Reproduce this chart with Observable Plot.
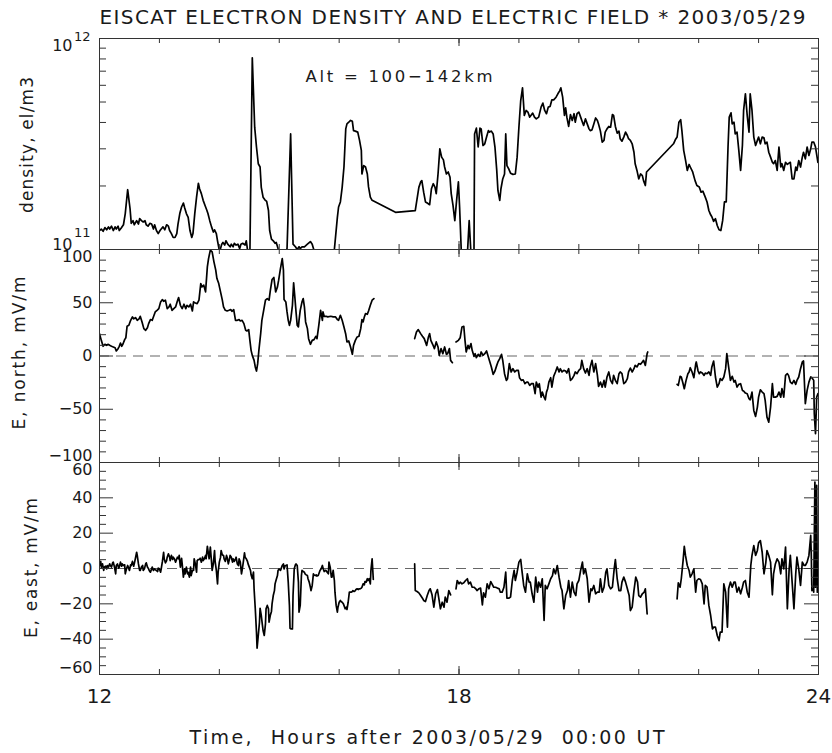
<!DOCTYPE html>
<html><head><meta charset="utf-8">
<script src="https://cdn.jsdelivr.net/npm/d3@7"></script>
<script src="https://cdn.jsdelivr.net/npm/@observablehq/plot@0.6"></script>
<style>
html,body{margin:0;padding:0;background:#fff;}
#chart{position:relative;width:832px;height:753px;font-family:"DejaVu Sans",sans-serif;}
</style></head><body><div id="chart"></div>
<script>
// ---------- text ----------
const titleText = "EISCAT ELECTRON DENSITY AND ELECTRIC FIELD * 2003/05/29";
const xTitle = "Time,\u00a0 Hours after 2003/05/29\u00a0 00:00 UT";
const densLabel = "density, el/m3";
const northLabel = "E, north, mV/m";
const eastLabel = "E, east, mV/m";
const altText = "Alt = 100\u2212142km";

// ---------- ticks ----------
const hourTicks = [12,13,14,15,16,17,18,19,20,21,22,23,24];
const hourMajor = [12,18,24];
const densMajor = [1e11, 1e12];
const densMinor = [2e11,3e11,4e11,5e11,6e11,7e11,8e11,9e11];
const northMajor = [-100,-50,0,50,100];
const northMinor = [-90,-80,-70,-60,-40,-30,-20,-10,10,20,30,40,60,70,80,90];
const eastMajor = [-60,-40,-20,0,20,40,60];
const eastMinor = [-55,-50,-45,-35,-30,-25,-15,-10,-5,5,10,15,25,30,35,45,50,55];

// ---------- electron density (hours UT, units of 1e11 el/m3) ----------
const densTime = [12.00,12.03,12.06,12.09,12.12,12.15,12.17,12.20,12.23,12.26,12.28,12.31,12.33,12.36,12.40,12.43,12.47,12.51,12.53,12.56,12.58,12.62,12.65,12.67,12.70,12.73,12.76,12.78,12.81,12.84,12.87,12.90,12.92,12.95,12.98,13.01,13.03,13.06,13.09,13.12,13.15,13.17,13.20,13.23,13.26,13.29,13.31,13.34,13.37,13.40,13.42,13.45,13.48,13.51,13.54,13.56,13.59,13.62,13.65,13.67,13.70,13.73,13.76,13.79,13.81,13.84,13.87,13.90,13.92,13.95,13.97,14.00,14.02,14.04,14.06,14.09,14.11,14.14,14.18,14.20,14.23,14.25,14.28,14.31,14.34,14.36,14.39,14.43,14.45,14.48,14.51,14.55,14.59,14.62,14.65,14.68,14.70,14.73,14.76,14.79,14.82,14.84,14.87,14.90,14.93,14.95,14.98,15.01,15.08,15.13,15.19,15.23,15.27,15.30,15.33,15.35,15.38,15.42,15.47,15.52,15.55,15.58,15.63,15.88,15.92,15.97,15.99,16.02,16.05,16.08,16.11,16.13,16.16,16.19,16.22,16.24,16.27,16.31,16.34,16.37,16.38,16.41,16.44,16.47,16.49,16.52,16.55,16.94,17.27,17.33,17.36,17.38,17.41,17.44,17.47,17.51,17.54,17.57,17.60,17.62,17.65,17.68,17.71,17.74,17.76,17.79,17.82,17.85,17.87,17.90,17.93,17.96,17.99,18.01,18.04,18.07,18.14,18.17,18.20,18.25,18.26,18.29,18.32,18.35,18.37,18.40,18.43,18.46,18.49,18.51,18.54,18.57,18.60,18.63,18.65,18.68,18.70,18.73,18.76,18.78,18.80,18.83,18.86,18.90,18.94,18.97,19.00,19.03,19.06,19.09,19.12,19.15,19.18,19.20,19.23,19.26,19.29,19.33,19.37,19.40,19.43,19.46,19.49,19.52,19.55,19.58,19.62,19.65,19.68,19.70,19.73,19.76,19.78,19.80,19.83,19.86,19.89,19.92,19.94,19.97,20.00,20.03,20.06,20.08,20.11,20.14,20.17,20.19,20.22,20.25,20.28,20.31,20.33,20.36,20.39,20.42,20.44,20.47,20.50,20.53,20.56,20.58,20.61,20.64,20.67,20.69,20.72,20.75,20.78,20.81,20.83,20.86,20.89,20.92,20.94,20.97,21.00,21.03,21.06,21.08,21.11,21.13,21.58,21.61,21.64,21.67,21.70,21.72,21.75,21.78,21.81,21.84,21.86,21.90,21.94,21.97,22.01,22.04,22.07,22.11,22.14,22.17,22.20,22.22,22.25,22.28,22.31,22.34,22.37,22.40,22.43,22.46,22.49,22.51,22.54,22.56,22.59,22.61,22.64,22.67,22.70,22.73,22.75,22.78,22.81,22.84,22.86,22.89,22.92,22.95,22.98,23.00,23.03,23.06,23.09,23.11,23.14,23.17,23.20,23.23,23.25,23.28,23.31,23.34,23.37,23.39,23.42,23.45,23.48,23.50,23.53,23.56,23.59,23.62,23.64,23.67,23.70,23.73,23.75,23.78,23.81,23.84,23.87,23.89,23.92,23.95,23.99];
const densValue = [1.23,1.25,1.22,1.27,1.24,1.28,1.25,1.29,1.23,1.28,1.25,1.29,1.23,1.26,1.31,1.48,1.92,1.56,1.33,1.37,1.31,1.37,1.32,1.40,1.37,1.35,1.37,1.31,1.29,1.33,1.32,1.25,1.31,1.23,1.19,1.23,1.25,1.28,1.24,1.31,1.29,1.23,1.19,1.14,1.14,1.19,1.32,1.48,1.59,1.66,1.58,1.48,1.42,1.23,1.14,1.19,1.48,1.77,2.06,1.94,1.84,1.71,1.62,1.54,1.48,1.37,1.28,1.21,1.24,1.19,1.10,0.99,1.01,1.06,1.08,1.05,1.10,1.06,1.03,1.06,1.03,1.07,1.05,1.06,1.01,1.06,1.07,1.05,1.10,0.95,0.95,8.10,3.80,3.06,2.55,2.46,1.97,1.77,1.72,1.69,1.53,1.23,1.12,1.10,1.07,1.08,1.01,0.95,0.95,1.01,3.53,1.06,1.03,1.00,1.03,1.01,1.03,1.03,1.06,1.09,1.06,0.99,0.95,0.95,1.00,1.42,1.59,1.68,1.97,2.46,3.73,3.94,4.01,4.09,4.05,3.66,3.64,3.60,3.29,2.95,2.28,2.50,2.46,2.28,1.98,1.77,1.71,1.50,1.53,1.97,2.09,2.12,1.87,1.68,1.66,1.63,1.94,2.05,1.97,1.84,2.28,3.00,2.74,2.66,2.46,2.28,2.33,2.20,1.84,1.62,1.37,1.71,2.09,1.59,0.95,0.95,0.95,1.37,0.95,0.95,3.53,3.76,3.06,3.76,3.73,3.11,3.17,3.41,3.66,3.60,3.64,3.53,3.06,2.37,1.90,1.71,1.94,2.16,2.28,3.53,2.50,2.41,2.30,2.27,2.28,2.74,3.80,5.08,5.84,4.32,4.56,4.48,4.24,4.32,4.43,4.24,4.16,4.24,4.73,4.94,4.56,4.40,4.73,4.76,5.12,5.12,5.27,5.47,5.65,5.84,5.27,4.32,4.69,4.24,3.83,4.36,4.09,4.40,4.01,4.40,4.48,4.24,4.01,3.87,4.16,3.94,3.73,3.66,3.69,3.93,4.20,4.09,3.92,3.64,3.23,3.29,3.60,3.73,3.83,3.80,4.36,4.32,3.83,3.56,3.64,3.35,3.26,3.41,3.60,3.47,3.35,3.29,3.17,2.89,2.55,2.37,2.16,2.28,2.24,2.12,2.01,2.33,3.17,3.31,3.41,4.01,4.12,3.66,2.95,2.66,2.37,2.53,2.46,2.33,2.12,2.01,1.98,1.87,1.89,1.77,1.68,1.53,1.46,1.43,1.36,1.40,1.30,1.24,1.23,1.37,1.68,1.68,3.06,4.24,4.44,3.94,4.01,3.53,3.60,2.95,2.37,3.11,4.56,5.47,4.32,3.60,5.47,4.56,3.41,3.11,3.29,3.41,3.17,3.41,3.38,3.17,3.23,2.89,2.74,2.59,2.55,2.64,2.37,3.06,2.46,2.55,2.37,2.59,2.53,2.56,2.59,2.16,2.16,2.46,2.37,2.64,2.46,2.74,2.89,2.69,3.06,2.79,3.00,3.23,3.23,3.06,2.59];

// ---------- E north (hours UT, mV/m; null = data gap) ----------
const northTime = [12.00,12.03,12.06,12.09,12.12,12.14,12.17,12.20,12.23,12.26,12.28,12.31,12.33,12.35,12.37,12.39,12.42,12.44,12.46,12.49,12.52,12.55,12.57,12.60,12.63,12.66,12.68,12.71,12.74,12.77,12.80,12.82,12.85,12.88,12.91,12.93,12.96,12.99,13.02,13.05,13.07,13.10,13.13,13.16,13.18,13.21,13.24,13.27,13.30,13.32,13.35,13.38,13.41,13.44,13.46,13.49,13.52,13.55,13.57,13.60,13.63,13.66,13.69,13.71,13.74,13.77,13.80,13.82,13.85,13.88,13.91,13.94,13.96,13.99,14.02,14.05,14.07,14.10,14.13,14.16,14.19,14.21,14.24,14.27,14.30,14.33,14.35,14.38,14.41,14.44,14.46,14.49,14.51,14.53,14.55,14.58,14.60,14.62,14.64,14.66,14.69,14.71,14.74,14.77,14.80,14.83,14.85,14.88,14.91,14.94,14.97,14.99,15.02,15.05,15.07,15.08,15.11,15.13,15.15,15.17,15.19,15.22,15.24,15.26,15.28,15.30,15.32,15.33,15.35,15.38,15.40,15.42,15.44,15.47,15.49,15.52,15.55,15.58,15.61,15.63,15.66,15.69,15.72,15.73,15.75,15.78,15.81,15.86,15.90,15.94,15.97,15.99,16.02,16.05,16.08,16.11,16.13,16.16,16.19,16.22,16.24,16.27,16.30,16.33,16.36,16.38,16.40,16.42,16.44,16.47,16.49,16.52,16.55,16.58,
 17.00,
 17.26,17.29,17.32,17.36,17.39,17.42,17.46,17.49,17.51,17.53,17.56,17.59,17.62,17.65,17.67,17.70,17.73,17.76,17.79,17.81,17.84,17.86,17.89,
 17.92,
 17.95,17.99,18.02,18.05,18.08,18.10,18.12,18.15,18.17,18.20,18.22,18.25,18.27,18.29,18.32,18.35,18.37,18.40,18.43,18.46,18.49,18.51,18.54,18.57,18.60,18.63,18.65,18.68,18.71,18.73,18.76,18.79,18.81,18.84,18.87,18.90,18.93,18.96,18.99,19.01,19.04,19.07,19.10,19.13,19.15,19.18,19.21,19.24,19.27,19.29,19.32,19.34,19.37,19.39,19.42,19.44,19.46,19.48,19.50,19.53,19.55,19.58,19.61,19.64,19.67,19.69,19.72,19.75,19.78,19.80,19.83,19.86,19.89,19.92,19.94,19.97,20.00,20.03,20.05,20.08,20.11,20.14,20.17,20.19,20.22,20.25,20.28,20.31,20.33,20.36,20.39,20.42,20.44,20.47,20.50,20.53,20.56,20.58,20.61,20.64,20.67,20.69,20.72,20.75,20.78,20.81,20.83,20.86,20.89,20.92,20.94,20.97,21.00,21.03,21.06,21.08,21.11,21.14,21.15,
 21.40,
 21.64,21.66,21.69,21.71,21.74,21.76,21.79,21.82,21.84,21.86,21.89,21.92,21.95,21.96,21.99,22.01,22.03,22.06,22.09,22.11,22.14,22.17,22.20,22.22,22.25,22.28,22.31,22.34,22.36,22.39,22.42,22.45,22.47,22.50,22.53,22.56,22.59,22.61,22.64,22.67,22.70,22.73,22.75,22.78,22.81,22.84,22.86,22.89,22.92,22.95,22.98,23.00,23.03,23.06,23.09,23.11,23.14,23.17,23.20,23.23,23.25,23.28,23.31,23.34,23.37,23.39,23.42,23.45,23.48,23.50,23.53,23.56,23.59,23.62,23.64,23.67,23.70,23.73,23.75,23.78,23.81,23.84,23.87,23.89,23.92,23.93,23.95,23.97,23.99];
const northValue = [21.0,14.7,9.1,11.0,10.0,11.0,10.0,9.1,8.5,7.8,4.7,6.9,9.1,12.2,9.1,11.0,15.4,17.2,27.9,28.8,33.5,36.7,34.8,36.1,33.5,34.8,37.3,32.0,25.7,24.1,26.6,30.4,34.2,33.5,38.2,41.4,42.9,44.5,50.8,53.0,51.4,52.4,44.5,46.1,48.6,42.9,44.5,46.1,51.7,54.9,47.6,44.5,48.6,44.5,47.6,46.1,48.6,42.3,50.8,49.8,49.2,52.4,68.0,64.9,66.5,60.2,83.7,91.5,99.4,97.8,88.4,80.6,72.7,68.0,60.2,52.4,46.1,42.9,42.3,42.9,43.6,42.0,43.6,33.5,33.5,34.2,32.9,33.5,30.4,24.1,23.5,24.8,14.7,5.3,0.6,-4.1,-10.3,-14.1,-7.2,5.3,21.0,33.5,42.9,52.4,53.9,52.4,61.1,71.8,73.7,60.2,64.9,71.2,82.1,91.5,80.6,53.0,50.8,41.4,33.5,28.8,33.5,47.6,68.7,55.5,41.4,28.8,27.3,33.5,42.9,50.8,53.9,46.1,32.0,25.7,16.3,11.0,14.7,15.4,18.5,16.3,28.8,42.9,33.5,41.4,37.3,37.3,36.7,37.3,36.7,36.7,34.2,33.5,38.2,33.5,27.3,20.4,13.2,14.1,8.5,1.6,10.0,14.7,17.9,18.5,25.7,34.2,32.0,36.7,39.8,39.2,42.3,47.6,52.4,53.9,
 null,
 16.3,22.6,24.8,21.0,18.5,16.3,10.0,17.9,21.0,14.7,11.0,6.9,13.2,8.5,0.6,6.9,2.2,8.5,1.6,2.2,6.9,-4.1,-6.3,
 null,
 13.2,14.7,17.2,27.3,27.9,14.7,3.8,10.0,6.9,11.6,5.3,-0.3,2.2,-1.6,1.6,-0.3,3.8,0.6,2.2,4.7,-0.9,-4.7,-10.3,-17.2,-14.1,-8.8,-5.6,-2.5,1.6,-4.1,-16.6,-22.9,-21.3,-7.2,-15.0,-11.9,-15.0,-13.5,-13.5,-20.4,-22.9,-22.3,-26.0,-24.5,-24.5,-27.6,-26.0,-26.0,-35.4,-24.5,-29.2,-26.0,-38.6,-33.9,-38.6,-41.1,-33.9,-30.7,-24.5,-20.4,-29.2,-19.1,-15.0,-10.3,-15.0,-11.9,-15.0,-13.5,-14.1,-16.0,-11.9,-22.9,-21.3,-18.2,-15.0,-16.6,-13.5,-11.9,-4.1,-11.9,-16.0,-11.9,-18.2,-10.3,-4.1,-15.0,-7.2,-18.2,-28.5,-24.5,-29.2,-22.9,-29.2,-19.7,-15.0,-22.9,-26.0,-18.2,-22.9,-26.0,-16.6,-15.0,-16.6,-26.0,-24.5,-21.3,-15.0,-11.3,-15.0,-11.9,-8.8,-10.3,-7.2,-7.8,-5.6,-4.1,-8.8,2.2,3.8,
 null,
 -26.6,-27.6,-19.1,-19.7,-26.0,-30.7,-22.9,-16.6,-15.0,-11.0,-15.0,-20.4,-7.8,-5.6,-14.1,-16.6,-15.0,-16.0,-18.2,-16.0,-16.6,-15.0,-18.2,-10.3,-4.7,-19.7,-29.2,-26.0,-21.3,-22.9,-19.7,-11.9,2.2,-10.3,-22.9,-19.1,-24.5,-22.9,-29.2,-26.6,-26.0,-32.3,-32.9,-34.8,-35.4,-40.1,-41.1,-33.9,-51.1,-56.7,-48.0,-38.6,-31.7,-33.9,-35.4,-41.7,-57.4,-62.1,-48.0,-26.0,-38.6,-38.6,-37.9,-33.9,-38.6,-30.7,-38.6,-18.2,-16.6,-18.2,-24.5,-26.0,-22.9,-26.6,-22.9,-19.7,-11.9,-5.6,-4.7,-44.8,-32.3,-24.5,-19.7,-20.4,-22.9,-54.2,-73.0,-38.6,-35.4];

// ---------- E east (hours UT, mV/m; null = data gap) ----------
const eastTime = [12.00,12.02,12.03,12.05,12.07,12.08,12.10,12.12,12.13,12.15,12.17,12.18,12.20,12.22,12.23,12.25,12.27,12.28,12.30,12.32,12.33,12.35,12.37,12.38,12.40,12.42,12.43,12.45,12.47,12.48,12.50,12.52,12.53,12.55,12.57,12.58,12.60,12.62,12.63,12.65,12.67,12.68,12.70,12.72,12.73,12.75,12.77,12.78,12.80,12.82,12.83,12.85,12.87,12.88,12.90,12.92,12.93,12.95,12.97,12.98,
 13.00,13.02,13.03,13.05,13.07,13.08,13.10,13.12,13.13,13.15,13.17,13.18,13.20,13.22,13.23,13.25,13.27,13.28,13.30,13.32,13.33,13.35,13.37,13.38,13.40,13.42,13.43,13.45,13.47,13.48,13.50,13.52,13.53,13.55,13.57,13.58,13.60,13.62,13.63,13.65,13.67,13.68,13.70,13.72,13.73,13.75,13.77,13.78,13.80,13.82,13.83,13.85,13.87,13.88,13.90,13.92,13.93,13.95,13.97,13.98,
 14.00,14.02,14.03,14.05,14.07,14.08,14.10,14.12,14.13,14.15,14.17,14.18,14.20,14.22,14.23,14.25,14.27,14.28,14.30,14.32,14.33,14.35,14.37,14.38,14.40,14.42,14.43,14.45,14.47,14.48,14.50,14.52,14.53,14.55,14.57,14.58,14.60,14.62,14.63,14.65,14.67,14.68,14.70,14.72,14.73,14.75,14.77,14.78,14.80,14.82,14.83,14.85,14.87,14.88,14.90,14.92,14.93,14.95,14.97,14.98,
 15.00,15.02,15.03,15.05,15.07,15.08,15.10,15.12,15.13,15.15,15.17,15.18,15.20,15.22,15.23,15.25,15.27,15.28,15.30,15.32,15.33,15.35,15.37,15.38,15.40,15.42,15.43,15.45,15.47,15.48,15.50,15.52,15.53,15.55,15.57,15.58,15.60,15.62,15.63,15.65,15.67,15.68,15.70,15.72,15.73,15.75,15.77,15.78,15.80,15.82,15.83,15.85,15.87,15.88,15.90,15.92,15.93,15.95,15.97,15.98,
 16.00,16.02,16.03,16.05,16.07,16.08,16.10,16.12,16.13,16.15,16.17,16.18,16.20,16.22,16.23,16.25,16.27,16.28,16.30,16.32,16.33,16.35,16.37,16.38,16.40,16.42,16.43,16.45,16.47,16.48,16.50,16.52,16.53,16.55,16.57,
 17.00,
 17.26,17.27,17.30,17.33,17.36,17.39,17.41,17.44,17.47,17.50,17.52,17.55,17.58,17.61,17.64,17.66,17.69,17.72,17.75,17.77,17.80,17.83,17.86,
 17.92,
 17.95,17.97,18.00,18.02,18.05,18.08,18.11,18.14,18.16,18.19,18.22,18.25,18.28,18.30,18.33,18.36,18.39,18.41,18.44,18.47,18.50,18.53,18.55,18.58,18.61,18.64,18.67,18.69,18.72,18.75,18.78,18.80,18.83,18.86,18.89,18.92,18.94,18.97,19.00,19.03,19.05,19.08,19.11,19.14,19.17,19.19,19.22,19.25,19.28,19.31,19.33,19.36,19.39,19.42,19.44,19.47,19.50,19.53,19.56,19.58,19.61,19.64,19.67,19.70,19.72,19.75,19.78,19.81,19.83,19.86,19.89,19.92,19.95,19.97,20.00,20.03,20.06,20.08,20.11,20.14,20.17,20.20,20.22,20.25,20.28,20.31,20.34,20.36,20.39,20.42,20.45,20.47,20.50,20.53,20.56,20.59,20.61,20.64,20.67,20.70,20.72,20.75,20.78,20.81,20.84,20.86,20.89,20.92,20.95,20.98,21.00,21.03,21.06,21.09,21.11,21.14,
 21.40,
 21.64,21.66,21.69,21.71,21.74,21.76,21.78,21.81,21.84,21.86,21.89,21.92,21.95,21.97,22.00,22.03,22.06,22.09,22.11,22.14,22.17,22.20,22.23,22.25,22.28,22.31,22.34,22.36,22.39,22.42,22.45,22.48,22.50,22.53,22.56,22.59,22.61,22.64,22.67,22.70,22.73,22.75,22.78,22.81,22.84,22.87,22.89,22.92,22.95,22.98,23.00,23.03,23.06,23.09,23.12,23.14,23.17,23.20,23.23,23.25,23.28,23.31,23.34,23.37,23.39,23.42,23.45,23.48,23.51,23.53,23.56,23.59,23.62,23.64,23.67,23.70,23.73,23.76,23.78,23.81,23.84,23.87,23.88,23.89,23.91,23.92,23.94,23.95,23.97,23.98];
const eastValue = [1.7,4.0,0.8,2.6,-1.1,0.8,1.3,-0.2,1.7,0.8,2.6,1.7,0.8,3.2,3.6,0.8,-3.0,1.7,2.6,0.2,0.8,3.6,1.3,2.6,1.7,2.1,-3.0,-0.2,1.7,0.8,-1.1,2.1,1.7,4.0,1.3,2.6,5.8,9.2,7.4,2.6,-1.1,-1.1,0.8,1.7,-1.1,-0.2,2.6,3.2,0.8,-0.2,-1.1,-2.1,-0.2,0.8,-1.1,-0.2,-0.6,-1.1,-1.7,0.2,
 -0.2,-2.1,-0.2,4.0,9.2,5.5,3.2,4.5,6.4,8.3,6.4,4.5,7.4,5.1,6.4,5.5,3.6,4.5,6.4,5.5,7.4,0.8,5.8,2.6,-4.9,-0.2,-3.0,0.8,-3.0,-2.1,-4.9,0.8,-4.0,-1.1,-1.1,5.5,2.6,-2.1,4.5,5.1,5.1,5.8,3.6,6.4,4.5,5.5,7.4,5.5,12.6,7.7,5.5,12.1,3.6,-1.1,2.6,10.2,4.0,-1.1,-8.7,-2.1,
 3.6,6.4,10.2,7.7,7.4,5.5,4.0,7.4,6.4,2.6,5.5,7.4,6.4,3.6,5.5,4.0,5.5,6.4,2.6,1.7,5.5,3.6,-3.0,-1.1,3.6,8.9,6.4,5.5,4.0,2.6,0.8,-1.1,-3.6,-5.8,-2.1,-11.5,-22.8,-36.0,-45.1,-37.9,-30.4,-22.5,-26.6,-32.3,-35.1,-37.9,-31.3,-22.8,-20.9,-22.8,-30.4,-26.6,-24.3,-20.0,-15.3,-12.5,-8.7,-6.2,-4.0,-1.1,
 -0.2,-1.1,-0.2,1.7,2.6,-0.2,1.7,1.7,2.1,-7.7,-20.9,-33.8,-34.2,-34.2,-15.3,-0.2,2.1,2.6,1.7,-7.7,-24.7,-20.9,-4.0,-1.1,-1.7,-2.1,-3.0,-3.6,-4.0,-5.8,-7.7,-10.6,-12.5,-9.6,-3.0,-3.6,-4.0,-3.6,-4.3,-4.0,-2.1,-1.1,-0.2,1.7,0.2,-1.7,-1.1,-1.1,-2.1,-3.0,3.6,0.8,-4.9,-4.9,-1.1,-6.8,-13.4,-20.9,-24.7,-21.9,
 -19.1,-18.1,-18.7,-19.1,-20.0,-20.9,-22.8,-21.9,-23.2,-19.1,-13.4,-13.4,-13.4,-13.0,-12.5,-13.0,-12.5,-11.9,-11.5,-11.9,-11.5,-11.5,-11.1,-10.6,-8.7,-9.2,-7.4,-7.7,-5.8,-6.8,-5.8,-8.7,-1.1,5.5,-6.2,
 null,
 2.6,-12.5,-13.0,-13.8,-15.3,-16.8,-18.1,-18.7,-15.3,-12.5,-11.5,-14.9,-21.9,-14.3,-11.9,-16.2,-22.8,-19.1,-21.9,-16.2,-19.1,-12.5,-14.9,
 null,
 -11.5,-6.8,-8.7,-7.7,-8.7,-8.1,-6.8,-5.8,-8.7,-7.7,-10.6,-10.6,-11.5,-12.5,-11.5,-11.1,-20.6,-13.8,-16.2,-8.7,-11.5,-7.4,-8.7,-10.6,-10.6,-11.1,-11.5,-13.4,-13.4,-10.6,-2.1,-16.8,-16.8,-16.2,-6.8,-1.1,-6.8,-2.1,3.6,5.1,-1.1,-9.6,-13.4,-3.0,-7.7,-7.7,-14.3,-19.1,-4.9,-13.4,-7.7,-10.6,-5.8,-29.4,-9.6,-11.5,-8.7,-5.8,-4.0,-0.2,-3.0,1.7,-4.9,-10.6,-12.5,-22.8,-15.3,-12.5,-6.8,-16.2,-7.7,-13.4,-15.3,-8.7,-6.8,-1.1,3.6,-3.0,-0.2,-5.8,-19.1,-11.5,-12.5,-9.6,-14.3,-13.4,-13.4,-5.8,-13.4,-10.6,-2.1,-0.2,-9.6,-11.5,-10.6,-0.2,5.1,-5.8,-12.5,-12.5,-7.7,-4.9,-7.7,-11.5,-15.3,-23.8,-21.9,-12.5,-4.9,-7.7,-15.3,-16.2,-14.3,-13.4,-11.5,-25.7,
 null,
 -17.2,-8.1,-10.6,-5.8,4.5,12.6,7.4,1.7,-1.1,-4.9,-3.0,-0.2,-13.4,-6.8,-5.8,-6.2,-8.7,-20.0,-9.6,-10.6,-20.9,-26.6,-34.2,-33.2,-33.2,-37.9,-40.8,-36.0,-36.0,-8.7,-13.4,-33.2,-11.5,-7.7,-10.6,-7.7,-7.7,-13.4,-10.6,-14.3,-10.6,-7.7,-6.8,-13.4,-16.2,1.7,7.4,13.0,7.4,10.2,14.5,15.8,9.2,-3.0,3.2,10.2,7.4,3.6,-14.9,-3.0,2.6,5.5,3.6,-3.0,5.5,-0.2,12.1,-22.8,-0.2,7.4,-7.7,-22.8,-3.0,6.4,-0.2,-9.6,3.6,1.7,1.7,3.6,7.4,18.7,7.4,-12.5,-11.5,-13.4,48.9,-10.6,47.0,-13.4];

// ---------- layout & style ----------
const W = 832, H = 753, ML = 99, MR = 14;
const FW = W - ML - MR;
const INK = "#1a1a1a", AX = "#333", FONT = "'DejaVu Sans', sans-serif";

const densRows = densTime.map((t, i) => ({t, v: densValue[i] * 1e11}));
const northRows = northTime.map((t, i) => ({t, v: northValue[i]}));
const eastRows = eastTime.map((t, i) => ({t, v: eastValue[i]}));

const fmt = d => d < 0 ? "\u2212" + Math.abs(d) : String(d);

function frameTicks(yMajor, yMinor, fh) {
  return [
    Plot.tickY(yMajor, {y: d => d, insetRight: FW - 14, stroke: AX}),
    Plot.tickY(yMajor, {y: d => d, insetLeft: FW - 14, stroke: AX}),
    Plot.tickY(yMinor, {y: d => d, insetRight: FW - 7, stroke: AX}),
    Plot.tickY(yMinor, {y: d => d, insetLeft: FW - 7, stroke: AX}),
    Plot.tickX(hourTicks, {x: d => d, insetBottom: fh - 5, stroke: AX}),
    Plot.tickX(hourTicks, {x: d => d, insetTop: fh - 5, stroke: AX}),
    Plot.tickX(hourMajor, {x: d => d, insetBottom: fh - 8, stroke: AX}),
    Plot.tickX(hourMajor, {x: d => d, insetTop: fh - 8, stroke: AX}),
    Plot.frame({stroke: AX, strokeWidth: 1})
  ];
}
function yLabels(values, dy) {
  return Plot.text(values, {y: d => d, text: fmt, frameAnchor: "left", textAnchor: "end", lineAnchor: "middle", dx: -7, dy, fontSize: 16, fill: INK});
}
function linearLabels(major) {
  const top = major[major.length - 1], bot = major[0];
  return [
    yLabels(major.filter(d => d !== top && d !== bot), 0),
    yLabels([top], 7),
    yLabels([bot], -7)
  ];
}
function sideLabel(label, dx, dy) {
  // rotated axis title; starts at its lower end and runs upward
  return Plot.text([label], {text: d => d, frameAnchor: "left", rotate: -90, textAnchor: "start", lineAnchor: "middle", dx, dy, fontSize: 17, fill: INK});
}
function panel(top, bottom, y, marks) {
  return Plot.plot({
    width: W, height: H,
    marginLeft: ML, marginRight: MR, marginTop: top, marginBottom: H - bottom,
    style: "background: transparent; overflow: visible; position: absolute; left: 0; top: 0; font-family: " + FONT + ";",
    x: {domain: [12, 24], axis: null},
    y: {...y, axis: null},
    marks
  });
}
const lineStyle = {x: "t", y: "v", stroke: "black", strokeWidth: 1.7, clip: true};
const zeroStyle = {stroke: "#666", strokeWidth: 1.2, strokeDasharray: "10,7"};

const p1 = panel(38, 249, {type: "log", domain: [1e11, 1e12]}, [
  Plot.line(densRows, lineStyle),
  ...frameTicks(densMajor, densMinor, 211),
  Plot.text([densMajor[1]], {y: d => d, text: d => "10", frameAnchor: "left", textAnchor: "end", lineAnchor: "middle", dx: -27, dy: 7, fontSize: 16, fill: INK}),
  Plot.text([densMajor[1]], {y: d => d, text: d => String(Math.round(Math.log10(d))), frameAnchor: "left", textAnchor: "end", lineAnchor: "middle", dx: -9, dy: -1.5, fontSize: 13, fill: INK}),
  Plot.text([densMajor[0]], {y: d => d, text: d => "10", frameAnchor: "left", textAnchor: "end", lineAnchor: "middle", dx: -27, dy: -5, fontSize: 16, fill: INK}),
  Plot.text([densMajor[0]], {y: d => d, text: d => String(Math.round(Math.log10(d))), frameAnchor: "left", textAnchor: "end", lineAnchor: "middle", dx: -9, dy: -16.5, fontSize: 13, fill: INK}),
  sideLabel(densLabel, -72, 69),
  Plot.text([altText], {text: d => d, frameAnchor: "top-left", textAnchor: "start", lineAnchor: "middle", dx: 206, dy: 38, fontSize: 16.5, fill: INK}),
  Plot.text([titleText], {text: d => d, frameAnchor: "top-left", textAnchor: "start", lineAnchor: "middle", dy: -21, fontSize: 20, fill: INK})
]);

const p2 = panel(249, 462, {domain: [-100, 100]}, [
  Plot.ruleY([0], zeroStyle),
  Plot.line(northRows, lineStyle),
  ...frameTicks(northMajor, northMinor, 213),
  ...linearLabels(northMajor),
  sideLabel(northLabel, -80, 73.5)
]);

const p3 = panel(462, 674, {domain: [-60, 60]}, [
  Plot.ruleY([0], zeroStyle),
  Plot.line(eastRows, lineStyle),
  ...frameTicks(eastMajor, eastMinor, 212),
  ...linearLabels(eastMajor),
  sideLabel(eastLabel, -68, 69.5),
  Plot.text(hourMajor, {x: d => d, text: d => String(d), frameAnchor: "bottom", lineAnchor: "middle", dy: 22, fontSize: 20, fill: INK}),
  Plot.text([xTitle], {text: d => d, frameAnchor: "bottom-left", textAnchor: "start", lineAnchor: "middle", dx: 90, dy: 63, fontSize: 19, fill: INK})
]);

const chart = document.getElementById("chart");
const lengths = new Map([[titleText, 706], [xTitle, 475], [densLabel, 136], [northLabel, 153], [eastLabel, 140], [altText, 187]]);
for (const svg of [p1, p2, p3]) {
  d3.select(svg).selectAll("text").each(function () {
    const L = lengths.get(this.textContent);
    if (L) { this.setAttribute("textLength", L); this.setAttribute("lengthAdjust", "spacing"); }
  });
  chart.appendChild(svg);
}
</script></body></html>
